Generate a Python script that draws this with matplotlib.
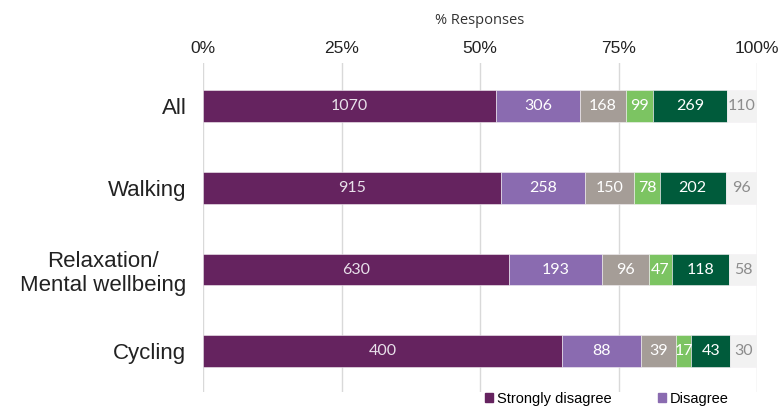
import matplotlib.pyplot as plt
from matplotlib.patches import Patch
import numpy as np

categories = ["All", "Walking", "Relaxation/\nMental wellbeing", "Cycling"]
strongly_disagree = [1070, 915, 630, 400]
disagree = [306, 258, 193, 88]
neutral = [168, 150, 96, 39]
agree = [99, 78, 47, 17]
strongly_agree = [269, 202, 118, 43]
no_answer = [110, 96, 58, 30]

series = [strongly_disagree, disagree, neutral, agree, strongly_agree, no_answer]
colours = ["#65235f", "#8a6bb0", "#a59d97", "#7cc462", "#005b3b", "#f2f2f2"]
text_cols = ["#e8e0ea", "white", "white", "white", "white", "#8c8c8c"]

data = np.array(series, dtype=float)
totals = data.sum(axis=0)
pct = data / totals * 100

fig = plt.figure(figsize=(7.82, 4.09), dpi=100)
ax = fig.add_axes([203 / 782, 1 - 392 / 409, 554 / 782, 329 / 409])

y = np.arange(len(categories))
left = np.zeros(len(categories))
for i in range(len(series)):
    ax.barh(y, pct[i], left=left, height=0.39, color=colours[i],
            edgecolor="#f4f0f4", linewidth=0.4, zorder=3)
    for j in range(len(categories)):
        ax.text(left[j] + pct[i][j] / 2, y[j], str(int(data[i][j])),
                ha="center", va="center", color=text_cols[i],
                fontsize=11.5, family="Lato", zorder=4)
    left += pct[i]

ax.set_xlim(0, 100)
ax.set_ylim(3.5, -0.53)
ax.set_yticks(y)
ax.set_yticklabels(categories, fontsize=16, family="Liberation Sans",
                   color="#222222", multialignment="center")
ax.set_xticks([0, 25, 50, 75, 100])
ax.set_xticklabels(["0%", "25%", "50%", "75%", "100%"], fontsize=12.5,
                   family="Liberation Sans", color="#222222")
ax.xaxis.tick_top()
ax.xaxis.set_label_position("top")
ax.set_xlabel("% Responses", fontsize=10.5, family="Open Sans",
              color="#333333", labelpad=12)
ax.tick_params(axis="both", length=0)
ax.tick_params(axis="x", pad=5)
ax.tick_params(axis="y", pad=12)
ax.grid(axis="x", color="#d9d9d9", linewidth=1, zorder=0)
for s in ax.spines.values():
    s.set_visible(False)

handles = [Patch(color=colours[0], label="Strongly disagree"),
           Patch(color=colours[1], label="Disagree")]
fig.legend(handles=handles, loc="center left",
           bbox_to_anchor=(472 / 782, 1 - 399 / 409), ncol=2, frameon=False,
           handlelength=0.55, handleheight=0.55, handletextpad=0.25,
           columnspacing=3.2, prop={"family": "Liberation Sans", "size": 10.5})

fig.savefig("out.png", dpi=100)
